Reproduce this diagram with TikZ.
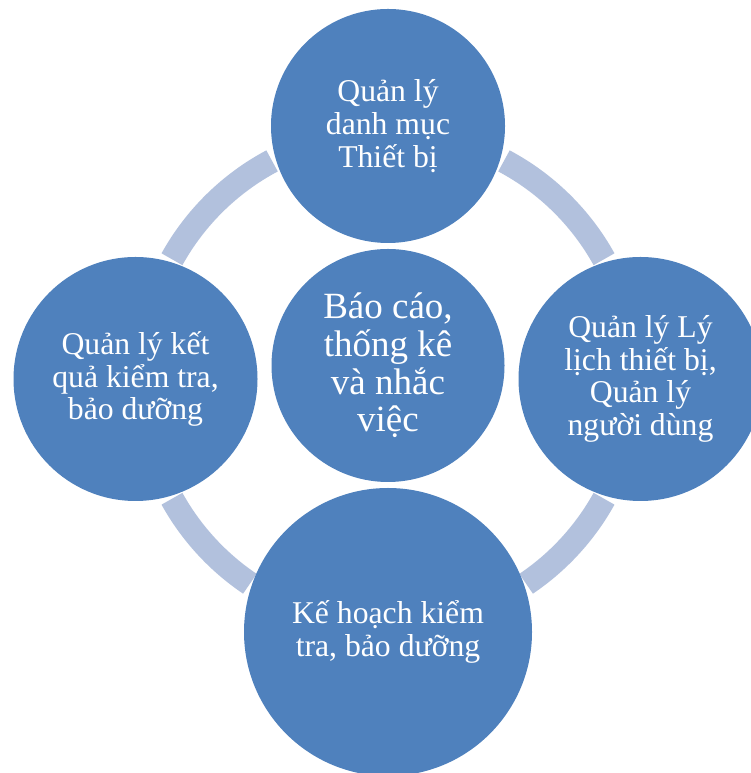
\documentclass[tikz,border=0pt]{standalone}
\usepackage{fontspec}
\setmainfont{Liberation Serif}
\begin{document}
\begin{tikzpicture}[x=1pt,y=1pt,
  hubring/.style={draw=ringblue, line width=24pt, line cap=butt},
  bubble/.style={circle, fill=bubblue, draw=none, inner sep=0pt, text=white,
    align=center, font=\fontsize{31.7}{32.7}\selectfont},
  hubbubble/.style={bubble, font=\fontsize{37}{37.8}\selectfont}]
\definecolor{bubblue}{HTML}{4F81BD}
\definecolor{ringblue}{HTML}{B2C1DD}
\useasboundingbox (0,0) rectangle (751,773);
\fill[white] (0,0) rectangle (751,773);

% ring segments around the hub
\coordinate (hub) at (388,394);
\draw[hubring] (hub) ++(118:247) arc[start angle=118, end angle=151, radius=247];
\draw[hubring] (hub) ++(29:247) arc[start angle=29, end angle=62, radius=247];
\draw[hubring] (hub) ++(209:247) arc[start angle=209, end angle=236, radius=247];
\draw[hubring] (hub) ++(304:247) arc[start angle=304, end angle=331, radius=247];

% bubbles
\node[bubble, minimum size=234pt] (top) at (388,647)
  {Quản lý\\danh mục\\Thiết bị};
\node[bubble, minimum size=244pt] (right) at (640.5,394)
  {Quản lý Lý\\lịch thiết bị,\\Quản lý\\người dùng};
\node[bubble, minimum size=288pt] (bottom) at (388,141)
  {Kế hoạch kiểm\\tra, bảo dưỡng};
\node[bubble, minimum size=244pt] (left) at (135.5,394)
  {Quản lý kết\\quả kiểm tra,\\bảo dưỡng};
\node[hubbubble, minimum size=233pt] (centre) at (388,407.5)
  {Báo cáo,\\thống kê\\và nhắc\\việc};
\end{tikzpicture}
\end{document}
